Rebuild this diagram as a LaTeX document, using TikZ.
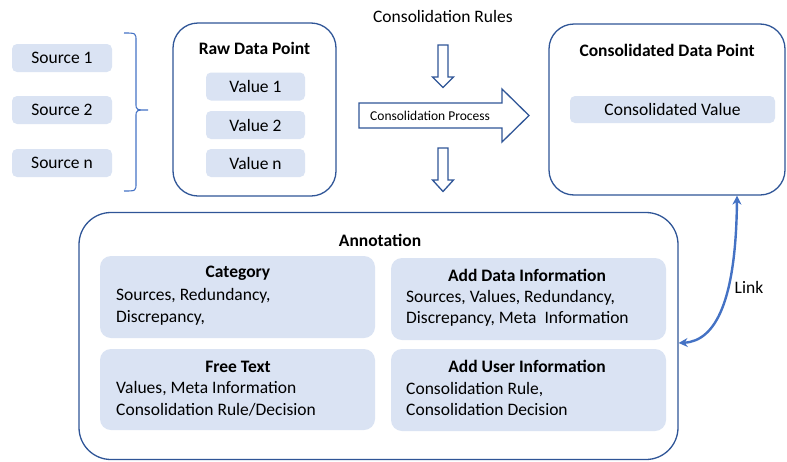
\documentclass[tikz,border=0pt]{standalone}
\usepackage{fontspec}
\setmainfont{Carlito}
\usetikzlibrary{arrows.meta}
\definecolor{frameblue}{HTML}{2F5597}
\definecolor{paleblue}{HTML}{DAE3F3}
\definecolor{linkblue}{HTML}{4472C4}
\begin{document}
\begin{tikzpicture}[x=1pt,y=-1pt,
  panel/.style={draw=frameblue, line width=1.3pt, fill=white, rounded corners=25pt, inner sep=0pt},
  chip/.style={fill=paleblue, rounded corners=5pt, inner sep=0pt, font=\fontsize{17.5}{21}\selectfont},
  card/.style={fill=paleblue, rounded corners=11pt, inner sep=0pt, minimum width=275pt},
  lbl/.style={inner sep=0pt, font=\fontsize{17.5}{21}\selectfont},
  ttl/.style={inner sep=0pt, font=\fontsize{17.5}{21}\selectfont\bfseries},
  body/.style={inner sep=0pt, anchor=west, align=left, font=\fontsize{17.5}{21.5}\selectfont},
  blockarrow/.style={draw=frameblue, line width=1.3pt, fill=white, line join=miter},
  linkarrow/.style={draw=linkblue, line width=2.4pt,
    {Stealth[length=9pt,width=9pt]}-{Stealth[length=9pt,width=9pt]}}]
\useasboundingbox (0,0) rectangle (787,461);

% sources and grouping brace
\node[chip, minimum width=100pt, minimum height=28pt] (src1) at (62,58) {Source 1};
\node[chip, minimum width=100pt, minimum height=28pt] (src2) at (62,110) {Source 2};
\node[chip, minimum width=100pt, minimum height=28pt] (srcn) at (62,163) {Source n};
\draw[linkblue, line width=1.1pt]
  (124,33) .. controls (136,33) .. (136,41) -- (136,103)
  .. controls (136,110) .. (148,110) .. controls (136,110) .. (136,117)
  -- (136,183) .. controls (136,191) .. (124,191);

% raw data point
\node[panel, minimum width=163pt, minimum height=173pt] (raw) at (254.5,109.5) {};
\node[ttl] (rawttl) at (254.5,48) {Raw Data Point};
\node[chip, minimum width=99pt, minimum height=28pt] (val1) at (255.5,86.5) {Value 1};
\node[chip, minimum width=99pt, minimum height=28pt] (val2) at (255.5,125) {Value 2};
\node[chip, minimum width=99pt, minimum height=28pt] (valn) at (255.5,163) {Value n};

% consolidation process arrows
\node[lbl] (rules) at (443,16) {Consolidation Rules};
\draw[blockarrow] (438,45) -- (448,45) -- (448,77) -- (453.5,77) -- (443,87.5)
  -- (432.5,77) -- (438,77) -- cycle;
\draw[blockarrow] (359,103) -- (502,103) -- (502,89) -- (529,115.5) -- (502,142)
  -- (502,128) -- (359,128) -- cycle;
\node[inner sep=0pt, anchor=west, font=\fontsize{13.5}{16}\selectfont] (process) at (370,115.5) {Consolidation Process};
\draw[blockarrow] (438,148) -- (448,148) -- (448,180) -- (453.5,180) -- (443,191.5)
  -- (432.5,180) -- (438,180) -- cycle;

% consolidated data point
\node[panel, minimum width=236pt, minimum height=171pt] (cdp) at (667,109.5) {};
\node[ttl] (cdpttl) at (667,50) {Consolidated Data Point};
\node[chip, minimum width=205pt, minimum height=27pt] (cval) at (672.5,109.5) {Consolidated Value};

% annotation
\node[panel, rounded corners=32pt, minimum width=599pt, minimum height=247pt] (ann) at (378.5,336) {};
\node[ttl] (annttl) at (380,240) {Annotation};

\node[card, minimum height=82pt] (cat) at (237.5,297) {};
\node[ttl] (catttl) at (238,273) {Category};
\node[body] (catbody) at (116,307) {Sources, Redundancy,\\Discrepancy,};

\node[card, minimum height=81pt] (free) at (237.5,389.5) {};
\node[ttl] (freettl) at (238,367) {Free Text};
\node[body] (freebody) at (116,399) {Values, Meta Information\\Consolidation Rule/Decision};

\node[card, minimum height=82pt] (adi) at (528.5,299) {};
\node[ttl] (adittl) at (527,275) {Add Data Information};
\node[body] (adibody) at (406,308.5) {Sources, Values, Redundancy,\\Discrepancy, Meta~~Information};

\node[card, minimum height=82pt] (aui) at (528.5,390) {};
\node[ttl] (auittl) at (527,366) {Add User Information};
\node[body] (auibody) at (406,399) {Consolidation Rule,\\Consolidation Decision};

% link between annotation and consolidated data point
\draw[linkarrow] ([xshift=70pt]cdp.south) .. controls (736,300) and (716,341) .. ([yshift=-7pt]ann.east);
\node[lbl] (linklbl) at (749,287) {Link};
\end{tikzpicture}
\end{document}
